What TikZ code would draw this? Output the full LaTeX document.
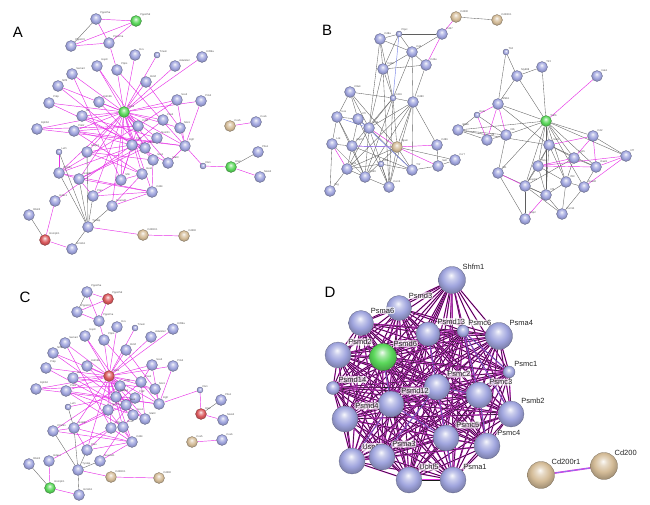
\documentclass[tikz,border=0pt]{standalone}
\usepackage{fontspec}
\setsansfont{Liberation Sans}
\usepackage{tikz}

\definecolor{ballblue}{RGB}{160,165,222}
\definecolor{ballgreen}{RGB}{90,215,90}
\definecolor{ballred}{RGB}{218,88,92}
\definecolor{balltan}{RGB}{212,188,152}
\definecolor{linkpink}{RGB}{230,50,230}
\definecolor{linkgray}{RGB}{95,95,95}
\definecolor{linkblue}{RGB}{120,132,232}
\colorlet{ballc}{ballblue}

\pgfdeclareradialshading[ballc]{stringball}{\pgfqpoint{-2bp}{9bp}}{color(0bp)=(ballc!8!white); color(7bp)=(ballc!55!white); color(17bp)=(ballc); color(30bp)=(ballc!72!black); color(50bp)=(ballc!72!black)}

\pgfdeclarelayer{links}
\pgfsetlayers{links,main}

\tikzset{
  prot/.style={circle, inner sep=0pt, minimum size=11pt, /utils/exec={\colorlet{ballc}{#1}}, shading=stringball, draw=#1!55!black, line width=0.25pt},
  tinylab/.style={font=\sffamily\fontsize{2.6}{3}\selectfont, text=black!70, inner sep=0.3pt},
  dlab/.style={font=\sffamily\fontsize{7.5}{8}\selectfont, text=black!85, fill=white, fill opacity=0.7, text opacity=1, rounded corners=1.5pt, inner sep=0.8pt},
  panel/.style={font=\sffamily\fontsize{15}{15}\selectfont},
  pinklink/.style={draw=linkpink, line width=0.45pt},
  graylink/.style={draw=linkgray, line width=0.35pt},
  bluelink/.style={draw=linkblue, line width=0.45pt},
  dlink/.style={draw=linkpink, line width=0.35pt, double=black!90, double distance=0.55pt},
  dpair/.style={draw=linkpink, line width=0.5pt, double=linkblue, double distance=0.6pt}
}

\begin{document}
\begin{tikzpicture}[x=1pt,y=-1pt]
  \useasboundingbox (0,0) rectangle (650,504);

  % panel letters
  \node[panel] (labA) at (18,32) {A};
  \node[panel] (labB) at (327,30) {B};
  \node[panel] (labC) at (25,297) {C};
  \node[panel] (labD) at (330,292) {D};

  % A
  \foreach \n/\x/\y/\col/\sz/\lab in {a1/96/19/ballblue/11/Ppp2r5a,a2/136/21/ballgreen/11/Ppp2r5d,a3/71/46/ballblue/11/Ppp2r2c,
      a4/109/43/ballblue/11/Ppp2r1a,a5/135/55/ballblue/11/Dcx,a6/157/55/ballblue/6/Tmem,a7/175/66/ballblue/11/Adamts2,
      a8/202/57/ballblue/11/Kif26a,a9/97/66/ballblue/11/Usp9,a10/117/70/ballblue/11/Ptprs,a11/72/74/ballblue/11/Sema3,
      a12/146/82/ballblue/11/Bcl2l,a13/58/86/ballblue/11/Ntf3,a14/49/103/ballblue/11/Prkp,a15/99/102/ballblue/11/Kdm5b,
      a16/124/112/ballgreen/11/Sox2,a17/177/100/ballblue/11/Sox3,a18/201/101/ballblue/11/Pitx2,a19/82/116/ballblue/11/Bcl,
      a20/37/129/ballblue/11/Ephb2,a21/74/131/ballblue/11/Pik3r,a22/138/126/ballblue/11/Cdh1,a23/163/120/ballblue/11/Pax2,
      a24/180/128/ballblue/11/Msi1,a25/59/152/ballblue/6/Lef1,a26/87/152/ballblue/11/Mapk1,a27/132/145/ballblue/11/Fgf2,
      a28/145/148/ballblue/11/Nes,a29/157/138/ballblue/11/Notch1,a30/185/146/ballblue/11/Egfr,a31/153/160/ballblue/11/Sox1,
      a32/168/163/ballblue/11/Stat3,a33/59/173/ballblue/11/Ctnnb1,a34/79/179/ballblue/11/Gsk3b,a35/121/180/ballblue/11/Shh,
      a36/142/174/ballblue/11/Hes1,a37/203/166/ballblue/6/Dlx1,a38/231/167/ballgreen/11/Dlx2,a39/258/152/ballblue/11/Pbx1,
      a40/260/177/ballblue/11/Meis2,a41/230/126/balltan/11/Cox5,a42/256/122/ballblue/11/Cox6,a43/152/192/ballblue/11/Cd44,
      a44/93/196/ballblue/11/Pten,a45/112/206/ballblue/11/Neurod1,a46/55/201/ballblue/11/Hdac1,a47/29/215/ballblue/11/Rbm2,
      a48/88/227/ballblue/11/Tyrobp,a49/45/240/ballred/11/Hnrnph1,a50/72/249/ballblue/11/H2-Eb1,
      a51/143/235/balltan/11/Cd200r1,a52/184/236/balltan/11/Cd200}
    \node[prot=\col, minimum size=\sz pt, label={[tinylab]above right:\lab}] (\n) at (\x,\y) {};

  % B
  \foreach \n/\x/\y/\col/\sz/\lab in {b1/456/17/balltan/11/Cd200,b2/497/20/balltan/11/Cd200r1,b3/380/39/ballblue/11/Cd8a,
      b4/399/34/ballblue/6/Ptprc,b5/442/34/ballblue/11/Cd47,b6/412/52/ballblue/11/Cd4,b7/426/65/ballblue/11/Cd3e,
      b8/383/69/ballblue/11/Cd28,b9/350/92/ballblue/11/Ctla4,b10/393/98/ballblue/6/Cd19,b11/413/102/ballblue/11/Cd80,
      b12/337/117/ballblue/11/Icos,b13/358/119/ballblue/11/Il7r,b14/369/128/ballblue/11/Cd2,b15/332/144/ballblue/11/Lck,
      b16/352/146/ballblue/11/Zap70,b17/397/147/balltan/11/Itgam,b18/437/145/ballblue/11/Cd86,b19/455/160/ballblue/11/Ccr7,
      b20/438/166/ballblue/11/Sell,b21/347/169/ballblue/11/Cd5,b22/365/177/ballblue/11/Cd69,b23/381/164/ballblue/6/Il10,
      b24/412/170/ballblue/11/Tnf,b25/389/187/ballblue/11/Cxcr4,b26/330/191/ballblue/11/Ifng,
      b27/506/52/ballblue/6/Tlr4,b28/542/67/ballblue/11/Tlr2,b29/517/76/ballblue/11/Myd88,b30/597/76/ballblue/11/Irak1,
      b31/498/104/ballblue/11/Nfkb1,b32/477/115/ballblue/6/Rela,b33/546/121/ballgreen/11/Traf6,b34/458/130/ballblue/11/Ikbkb,
      b35/487/140/ballblue/11/Il6,b36/506/135/ballblue/11/Il1b,b37/593/136/ballblue/11/Ccl2,b38/549/145/ballblue/11/Stat1,
      b39/626/156/ballblue/11/Irf7,b40/574/158/ballblue/11/Isg15,b41/596/167/ballblue/11/Oasl1,b42/538/166/ballblue/11/Mx1,
      b43/498/173/ballblue/11/Ifit1,b44/566/182/ballblue/11/Ifit3,b45/584/187/ballblue/11/Rsad2,b46/525/186/ballblue/11/Usp18,
      b47/546/195/ballblue/11/Irf9,b48/562/214/ballblue/11/Cxcl10,b49/525/219/ballblue/11/Gbp2}
    \node[prot=\col, minimum size=\sz pt, label={[tinylab]above right:\lab}] (\n) at (\x,\y) {};

  % C
  \foreach \n/\x/\y/\col/\sz/\lab in {c1/87/292/ballblue/11/Ppp2r5a,c2/108/299/ballred/11/Ppp2r5d,c3/77/312/ballblue/11/Ppp2r2c,
      c4/99/321/ballblue/11/Ppp2r1a,c5/117/327/ballblue/11/Dcx,c6/135/328/ballblue/6/Tmem,c7/151/337/ballblue/11/Adamts2,
      c8/173/329/ballblue/11/Kif26a,c9/85/336/ballblue/11/Usp9,c10/104/340/ballblue/11/Ptprs,c11/65/343/ballblue/11/Sema3,
      c12/126/350/ballblue/11/Bcl2l,c13/53/353/ballblue/11/Ntf3,c14/46/368/ballblue/11/Prkp,c15/87/366/ballblue/11/Kdm5b,
      c16/109/376/ballred/11/Sox2,c17/152/365/ballblue/11/Sox3,c18/173/366/ballblue/11/Pitx2,c19/73/378/ballblue/11/Bcl,
      c20/36/389/ballblue/11/Ephb2,c21/66/391/ballblue/11/Pik3r,c22/120/386/ballblue/11/Cdh1,c23/141/382/ballblue/11/Pax2,
      c24/155/389/ballblue/11/Msi1,c25/68/407/ballblue/6/Lef1,c26/116/397/ballblue/11/Mapk1,c27/135/398/ballblue/11/Fgf2,
      c28/126/405/ballblue/11/Nes,c29/159/404/ballblue/11/Egfr,c30/108/410/ballblue/11/Notch1,c31/133/415/ballblue/11/Sox1,
      c32/145/419/ballblue/11/Stat3,c33/53/431/ballblue/11/Ctnnb1,c34/74/428/ballblue/11/Gsk3b,c35/111/428/ballblue/11/Shh,
      c36/123/427/ballblue/11/Hes1,c37/132/442/ballblue/11/Cd44,c38/200/390/ballblue/6/Dlx1,c39/201/414/ballred/11/Dlx2,
      c40/221/400/ballblue/11/Pbx1,c41/223/420/ballblue/11/Meis2,c42/192/442/balltan/11/Cox5,c43/222/440/ballblue/11/Cox6,
      c44/87/450/ballblue/11/Pten,c45/100/461/ballblue/11/Neurod1,c46/49/461/ballblue/11/Hdac1,c47/29/464/ballblue/11/Rbm2,
      c48/78/470/ballblue/11/Tyrobp,c49/111/477/balltan/11/Cd200r1,c50/159/478/balltan/11/Cd200,
      c51/50/488/ballgreen/11/Hnrnph1,c52/79/495/ballblue/11/H2-Eb1}
    \node[prot=\col, minimum size=\sz pt, label={[tinylab]above right:\lab}] (\n) at (\x,\y) {};

  % D
  \foreach \n/\x/\y/\col/\sz/\lab in {d1/452/280/ballblue/27/Shfm1,d2/399/308/ballblue/25/Psmd3,d3/361/323/ballblue/25/Psma6,
      d4/428/334/ballblue/24/Psmd13,d5/463/331/ballblue/12/Psmc6,d6/499/336/ballblue/27/Psma4,d7/338/355/ballblue/26/Psmd2,
      d8/383/357/ballgreen/27/Psmd6,d9/509/372/ballblue/12/Psmc1,d10/333/388/ballblue/13/Psmd14,d11/437/387/ballblue/26/Psmc2,
      d12/479/395/ballblue/26/Psmc3,d13/391/404/ballblue/26/Psmd12,d14/511/414/ballblue/26/Psmb2,d15/345/419/ballblue/26/Psmd4,
      d16/446/438/ballblue/26/Psmc5,d17/487/446/ballblue/26/Psmc4,d18/352/461/ballblue/26/Usp14,d19/382/457/ballblue/26/Psma3,
      d20/409/480/ballblue/26/Uchl5,d21/453/480/ballblue/26/Psma1,d22/541/475/balltan/27/Cd200r1,d23/604/466/balltan/27/Cd200}
    \node[prot=\col, minimum size=\sz pt, label={[dlab]above right:\lab}] (\n) at (\x,\y) {};

  \begin{pgfonlayer}{links}
    % A links
    \foreach \p/\q in {a1/a2,a1/a4,a2/a3,a2/a4,a3/a4,a4/a10,
        a16/a5,a16/a6,a16/a7,a16/a8,a16/a9,a16/a10,a16/a11,a16/a12,a16/a13,a16/a14,a16/a15,a16/a17,a16/a18,a16/a19,
        a16/a20,a16/a21,a16/a22,a16/a23,a16/a24,a16/a26,a16/a27,a16/a28,a16/a29,a16/a30,a16/a31,a16/a32,a16/a33,
        a16/a34,a16/a35,a16/a36,a16/a43,a16/a44,a16/a45,
        a20/a22,a20/a30,a21/a30,a19/a29,a17/a30,a18/a30,a17/a22,a23/a27,a24/a30,a26/a27,a26/a31,a26/a36,a21/a36,
        a22/a35,a27/a35,a28/a34,a29/a33,a30/a32,a30/a37,a37/a38,a38/a40,a41/a42,a33/a43,a34/a43,a25/a33,a44/a43,
        a45/a43,a44/a35,a45/a36,a46/a49,a46/a27,a49/a50,a48/a51,a51/a52,a35/a36,a31/a43,a28/a21,a19/a32,a14/a28,
        a12/a24,a15/a31,a11/a35,a13/a27,a9/a22,a10/a30,a22/a33,a29/a34,a21/a22,a33/a34,a34/a44}
      \draw[pinklink] (\p) -- (\q);
    \foreach \p/\q in {a1/a3,a38/a39,a33/a48,a34/a48,a25/a48,a26/a48,a44/a48,a45/a48,a47/a49,a48/a50}
      \draw[graylink] (\p) -- (\q);

    % B links
    \foreach \p/\q in {b1/b2,b3/b4,b4/b5,b3/b6,b4/b6,b6/b7,b3/b8,b4/b8,b6/b8,b8/b7,b6/b10,b7/b11,b8/b10,b8/b14,
        b9/b10,b9/b12,b9/b13,b10/b11,b10/b14,b10/b17,b11/b17,b11/b14,b11/b24,b11/b25,b12/b13,b12/b15,b13/b14,
        b15/b16,b16/b22,b14/b21,b14/b22,b14/b25,b17/b19,b17/b24,b17/b22,b17/b21,b17/b25,b18/b20,b19/b20,b20/b24,
        b21/b22,b21/b23,b22/b25,b21/b26,b13/b16,b12/b22,b16/b21,b23/b24,b9/b17,b6/b11,b5/b6,b3/b10,b10/b22,
        b10/b25,b10/b16,b11/b18,b11/b21,b11/b22,b12/b16,b15/b26,b15/b22,b13/b25,b14/b24,b23/b25,b16/b24,b9/b14,
        b8/b25,b3/b14,
        b27/b29,b27/b31,b28/b29,b28/b33,b29/b33,b29/b31,b31/b33,b32/b34,b32/b36,b34/b35,b34/b36,b35/b36,b34/b33,
        b36/b33,b33/b37,b33/b38,b33/b39,b33/b40,b33/b41,b33/b42,b33/b43,b33/b44,b33/b46,b33/b45,b33/b47,b37/b39,
        b38/b40,b38/b42,b38/b46,b38/b47,b40/b41,b40/b44,b41/b45,b42/b46,b42/b47,b43/b47,b44/b45,b44/b47,b46/b47,
        b46/b49,b46/b48,b47/b48,b36/b43,b43/b49,b45/b48,b44/b48,b38/b44,b38/b41,b42/b44,b40/b46,b34/b38,b31/b38}
      \draw[graylink] (\p) -- (\q);
    \foreach \p/\q in {b1/b5,b5/b7,b14/b17,b15/b21,b17/b18,b17/b20,b17/b16,
        b30/b33,b31/b32,b31/b35,b31/b36,b32/b35,b37/b40,b37/b41,b39/b41,b39/b45,b40/b42,b43/b46,b47/b49,b41/b42,
        b38/b37,b42/b39}
      \draw[pinklink] (\p) -- (\q);
    \foreach \p/\q in {b4/b10,b12/b14,b16/b17,b13/b24}
      \draw[bluelink] (\p) -- (\q);

    % C links
    \foreach \p/\q in {c1/c2,c1/c4,c2/c3,c2/c4,c3/c4,c4/c10,
        c16/c5,c16/c6,c16/c7,c16/c8,c16/c9,c16/c10,c16/c11,c16/c12,c16/c13,c16/c14,c16/c15,c16/c17,c16/c18,c16/c19,
        c16/c20,c16/c21,c16/c22,c16/c23,c16/c24,c16/c26,c16/c27,c16/c28,c16/c29,c16/c30,c16/c31,c16/c32,c16/c34,
        c16/c35,c16/c36,c16/c37,c16/c44,
        c20/c22,c20/c29,c21/c29,c19/c24,c17/c29,c18/c29,c17/c23,c22/c27,c23/c30,c26/c32,c21/c31,c21/c36,c19/c32,
        c25/c26,c33/c34,c33/c37,c34/c37,c34/c44,c44/c37,c45/c37,c44/c35,c45/c36,c35/c37,c36/c37,c30/c37,c48/c49,
        c49/c50,c51/c52,c46/c51,c46/c35,c29/c38,c38/c39,c39/c41,c42/c43,c14/c31,c13/c28,c11/c35,c15/c26,c12/c24,
        c9/c22,c10/c29,c22/c33,c28/c34,c27/c35,c31/c36,c23/c32,c24/c29,c26/c27,c30/c34}
      \draw[pinklink] (\p) -- (\q);
    \foreach \p/\q in {c1/c3,c25/c34,c33/c48,c34/c48,c44/c48,c45/c48,c48/c52,c47/c51,c39/c40}
      \draw[graylink] (\p) -- (\q);

    % D links, every pair of the cluster
    \foreach \i in {1,...,20}{
      \pgfmathtruncatemacro\nxt{\i+1}
      \foreach \j in {\nxt,...,21}
        \draw[dlink] (d\i) -- (d\j);
    }
    \foreach \p/\q in {d4/d11,d5/d12,d11/d16,d12/d17,d13/d18,d16/d21,d11/d12,d5/d9,d5/d14,d13/d16,d8/d13,d11/d19}
      \draw[bluelink] (\p) -- (\q);
    \draw[dpair] (d22) -- (d23);
  \end{pgfonlayer}
\end{tikzpicture}
\end{document}
